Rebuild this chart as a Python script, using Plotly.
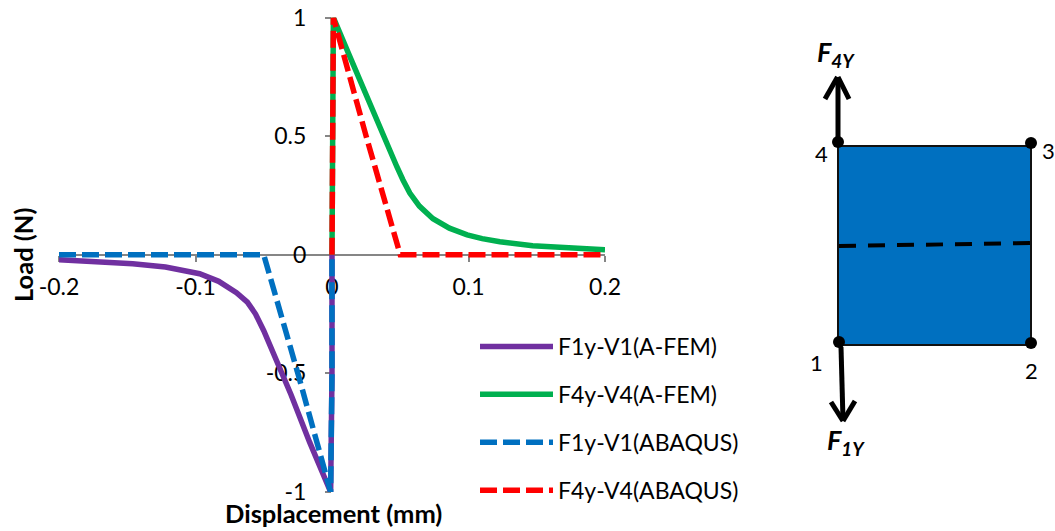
import plotly.graph_objects as go

W, H = 1055, 531
FONT = "Lato"

# Chart data
f1_afem_x = [-0.2, -0.175, -0.146, -0.122, -0.097, -0.083, -0.07, -0.062, -0.056, -0.05, -0.043, -0.03, -0.0164, -0.001, 0.0, 0.0]
f1_afem_y = [-0.021, -0.027, -0.038, -0.052, -0.08, -0.112, -0.16, -0.2, -0.25, -0.32, -0.413, -0.59, -0.79, -1.0, -0.5, 0.0]
f4_afem_x = [0.0, 0.0, 0.001, 0.012, 0.03, 0.0476, 0.052, 0.057, 0.064, 0.074, 0.086, 0.099, 0.11, 0.123, 0.147, 0.172, 0.2]
f4_afem_y = [0.0, 0.5, 1.0, 0.85, 0.6, 0.37, 0.315, 0.26, 0.205, 0.152, 0.112, 0.084, 0.068, 0.055, 0.038, 0.029, 0.021]
f1_abq_x = [-0.2, -0.1, -0.05, -0.025, -0.001, 0.0, 0.0]
f1_abq_y = [0.0, 0.0, 0.0, -0.5, -1.0, -0.5, 0.0]
f4_abq_x = [0.0, 0.0, 0.001, 0.025, 0.05, 0.1, 0.2]
f4_abq_y = [0.0, 0.5, 1.0, 0.5, 0.0, 0.0, 0.0]

x_ticks = [-0.2, -0.1, 0, 0.1, 0.2]
y_ticks = [-1, -0.5, 0, 0.5, 1]
series_names = ["F1y-V1(A-FEM)", "F4y-V4(A-FEM)", "F1y-V1(ABAQUS)", "F4y-V4(ABAQUS)"]
series_colors = ["#7030A0", "#00B050", "#0070C0", "#FF0000"]


def px(x):
    return x / W


def py(y):
    return 1 - y / H


fig = go.Figure()
series = [
    (f1_afem_x, f1_afem_y, "solid"),
    (f4_afem_x, f4_afem_y, "solid"),
    (f1_abq_x, f1_abq_y, "17px,6px"),
    (f4_abq_x, f4_abq_y, "17px,6px"),
]
for i, (xs, ys, dash) in enumerate(series):
    fig.add_trace(go.Scatter(
        x=xs, y=ys, mode="lines", name=series_names[i], legendgroup=series_names[i],
        line=dict(color=series_colors[i], width=5.5, dash=dash), cliponaxis=False,
    ))

shapes = []


def seg(x0, y0, x1, y1, width=5, dash="solid"):
    shapes.append(dict(type="line", xref="paper", yref="paper", x0=px(x0), y0=py(y0), x1=px(x1), y1=py(y1),
                       line=dict(color="black", width=width, dash=dash)))


shapes.append(dict(type="rect", xref="paper", yref="paper", x0=px(838), y0=py(345), x1=px(1031), y1=py(146),
                   fillcolor="#0070C0", line=dict(color="#111111", width=2)))
seg(839, 246, 1031, 243, 4, "17px,12px")
seg(838, 142, 838, 78)
seg(825, 99, 837.5, 77)
seg(849, 99, 838, 77)
seg(841, 347, 843, 420)
seg(831, 402, 843, 421)
seg(855, 401, 843, 421)
for cx, cy in [(838, 142), (1031, 143), (839, 342), (1031, 343)]:
    shapes.append(dict(type="circle", xref="paper", yref="paper", x0=px(cx - 6), x1=px(cx + 6), y0=py(cy - 6),
                       y1=py(cy + 6), fillcolor="black", line=dict(color="black", width=0)))

annotations = []


def label(text, x, y, size, angle=0):
    annotations.append(dict(text=text, xref="paper", yref="paper", x=px(x), y=py(y), showarrow=False,
                            xanchor="center", yanchor="middle", textangle=angle,
                            font=dict(family=FONT, size=size, color="black")))


label("<b>Displacement (mm)</b>", 333, 513, 25.5)
label("<b>Load (N)</b>", 23, 255, 25.5, -90)
label("<b><i>F<sub>4Y</sub></i></b>", 836, 54, 27)
label("<b><i>F<sub>1Y</sub></i></b>", 846, 441, 27)
label("4", 821, 153, 22)
label("3", 1048, 150, 22)
label("1", 816, 362, 22)
label("2", 1031, 370, 22)

axis_color = "#868686"
fig.update_layout(
    width=W, height=H, margin=dict(l=0, r=0, t=0, b=0, pad=0),
    paper_bgcolor="white", plot_bgcolor="white", shapes=shapes, annotations=annotations,
    font=dict(family=FONT, size=23, color="black"),
    xaxis=dict(domain=[px(59), px(605)], range=[-0.2, 0.2], tickvals=x_ticks, ticktext=["-0.2", "-0.1", "0", "0.1", "0.2"],
               anchor="free", position=py(255), showgrid=False, zeroline=False, showline=True, automargin=False,
               linecolor=axis_color, linewidth=2, ticks="outside", ticklen=6, tickcolor=axis_color, tickwidth=1.5,
               ticklabelstandoff=5, tickangle=0, layer="below traces"),
    yaxis=dict(domain=[py(492), py(17.5)], range=[-1, 1], tickvals=y_ticks, ticktext=["-1", "-0.5", "0", "0.5", "1"],
               anchor="free", position=px(332), showgrid=False, zeroline=False, showline=True, automargin=False,
               linecolor=axis_color, linewidth=2, ticks="outside", ticklen=6, tickcolor=axis_color, tickwidth=1.5,
               ticklabelstandoff=14, layer="below traces", ticklabeloverflow="allow"),
    legend=dict(x=px(475), y=py(325), xanchor="left", yanchor="top", bgcolor="rgba(0,0,0,0)",
                traceorder="grouped", tracegroupgap=15, itemwidth=73, font=dict(family=FONT, size=23)),
)

fig.write_html("out.html", config=dict(displayModeBar=False),
               post_script="document.body.style.margin='0';document.documentElement.style.overflow='hidden';")
